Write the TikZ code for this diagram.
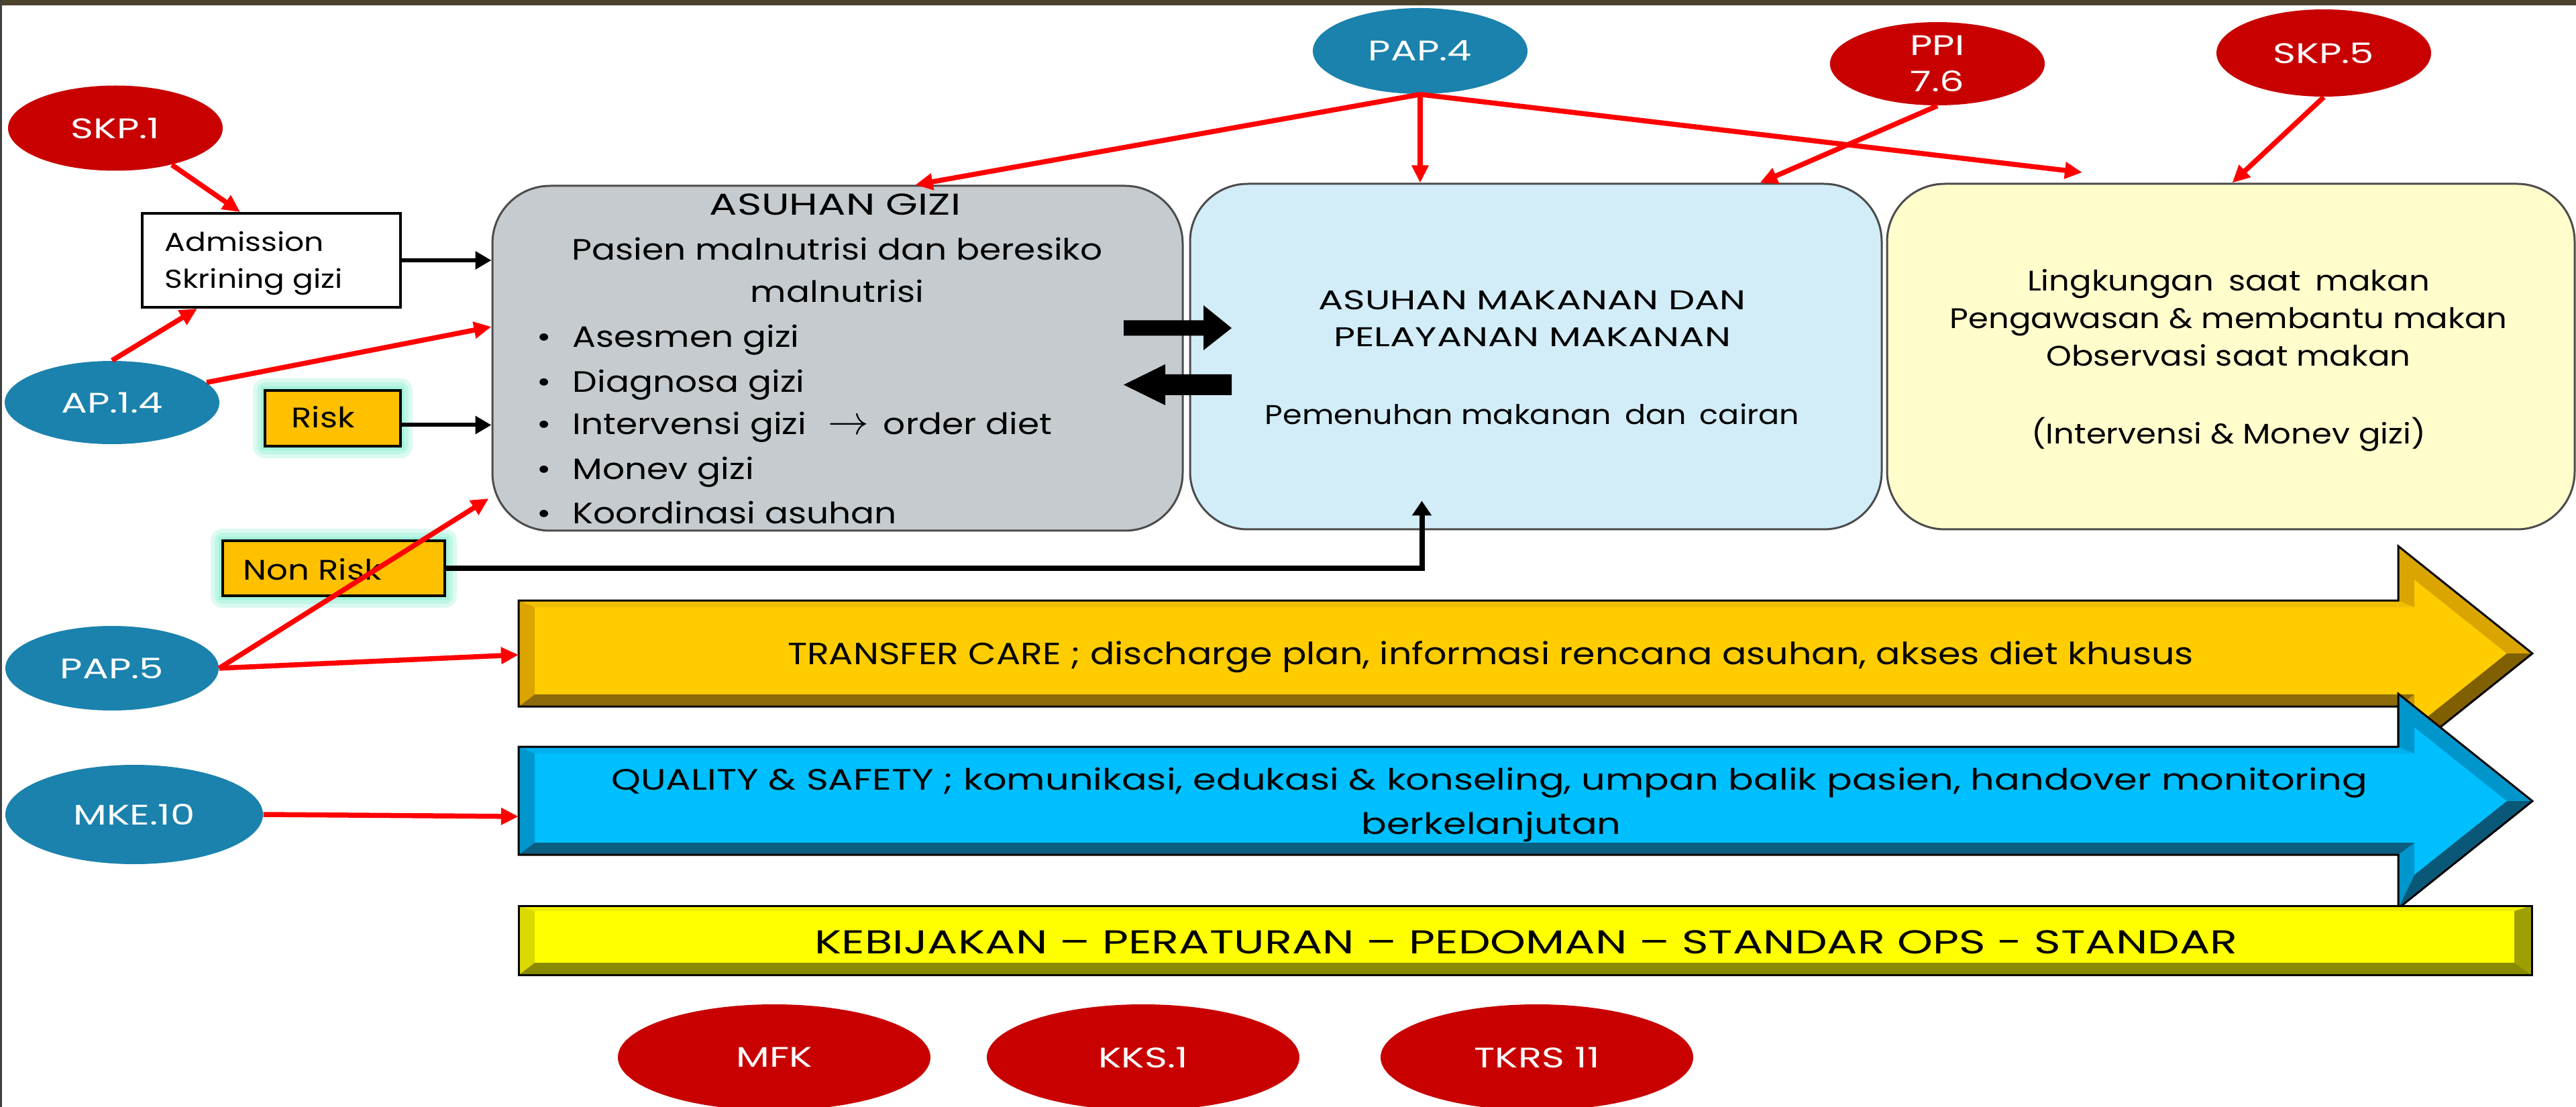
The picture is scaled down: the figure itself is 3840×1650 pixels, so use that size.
\documentclass[tikz,border=0pt]{standalone}
\usepackage{fontspec}
\setmainfont{Poppins}[FakeStretch=1.18]
\newfontfamily\widefont{Poppins}[FakeStretch=1.37]
\newfontfamily\midfont{Poppins}[FakeStretch=1.27]
\newfontfamily\narrowfont{Poppins}[FakeStretch=1.14]
\usetikzlibrary{shapes.geometric,arrows.meta,calc}

\definecolor{redE}{HTML}{C80000}
\definecolor{blueE}{HTML}{1A82AD}
\definecolor{grayBox}{HTML}{C5CBCF}
\definecolor{skyBox}{HTML}{D2EDF8}
\definecolor{creamBox}{HTML}{FFFDCC}
\definecolor{tagFill}{HTML}{FFC000}
\definecolor{glowC}{HTML}{A4F2DC}
\definecolor{lineRed}{HTML}{FF0000}
\definecolor{topBar}{HTML}{4B432B}
% bevelled band colours
\definecolor{tcFace}{HTML}{FFCC00}
\definecolor{tcTop}{HTML}{F2BF00}
\definecolor{tcLit}{HTML}{DAA500}
\definecolor{tcStep}{HTML}{C89600}
\definecolor{tcDark}{HTML}{7F5F00}
\definecolor{tcBot}{HTML}{8C6A0C}
\definecolor{qsFace}{HTML}{00BFFF}
\definecolor{qsTop}{HTML}{00B0EE}
\definecolor{qsLit}{HTML}{0096CC}
\definecolor{qsDark}{HTML}{0A5878}
\definecolor{qsBot}{HTML}{0C5E80}
\definecolor{kbFace}{HTML}{FFFF00}
\definecolor{kbTop}{HTML}{EEEE00}
\definecolor{kbLit}{HTML}{DADA00}
\definecolor{kbRight}{HTML}{9E9E00}
\definecolor{kbBot}{HTML}{8A8A00}

\tikzset{
  ovalnode/.style={ellipse, inner sep=0pt, text=white, font=\widefont\fontsize{12}{15.4}\selectfont, align=center},
  redoval/.style={ovalnode, fill=redE},
  blueoval/.style={ovalnode, fill=blueE},
  bigbox/.style={rectangle, rounded corners=8.6mm, draw=black!70, line width=0.3mm, inner sep=0pt},
  tagbox/.style={rectangle, draw=black, line width=0.4mm, fill=tagFill, inner sep=0pt,
    preaction={draw=glowC!40, line width=3.6mm, line join=round},
    preaction={draw=glowC!70, line width=2.4mm, line join=round},
    preaction={draw=glowC, line width=1.2mm}},
  redlink/.style={draw=lineRed, line width=0.75mm, -{Triangle[length=2.6mm,width=2.4mm]}},
  blacklink/.style={draw=black, line width=0.6mm, -{Triangle[length=2.4mm,width=2.6mm]}},
  txt/.style={inner sep=0pt, anchor=base},
  txtl/.style={inner sep=0pt, anchor=base west},
  bodyfont/.style={font=\fontsize{12.5}{15}\selectfont},
  outline/.style={draw=black, line width=0.3mm, line join=miter}
}

\begin{document}
\begin{tikzpicture}[x=0.1mm,y=-0.1mm]
\useasboundingbox (0,0) rectangle (3840,1650);
\fill[white] (0,0) rectangle (3840,1650);
% slide frame
\fill[topBar] (0,0) rectangle (3840,8);
\fill[black!75] (0,0) rectangle (3,1650);

% three main panels
\node[bigbox, fill=grayBox, minimum width=102.9mm, minimum height=51.4mm] (gizi) at (1248.5,534) {};
\node[bigbox, fill=skyBox, minimum width=103.1mm, minimum height=51.5mm] (makan) at (2289.5,531.5) {};
\node[bigbox, fill=creamBox, minimum width=102.5mm, minimum height=51.5mm] (ling) at (3325.5,531.5) {};

% panel texts
\node[txt, font=\widefont\fontsize{12.8}{15}\selectfont] (g1) at (1245,321) {ASUHAN GIZI};
\begin{scope}[bodyfont]
\node[txt] (g2) at (1248,388) {Pasien malnutrisi dan beresiko};
\node[txt] (g3) at (1248,451) {malnutrisi};
\foreach \y/\t [count=\i] in {518/Asesmen gizi, 585/Diagnosa gizi,
    648/{Intervensi gizi\hspace{3.2mm}{\fontsize{16}{16}\selectfont$\rightarrow$}\hspace{2.2mm}order diet}, 715/Monev gizi, 780/Koordinasi asuhan}{
  \node[txtl] (gb\i) at (800,\y) {\textbullet};
  \node[txtl] (gt\i) at (853,\y) {\t};
}
\end{scope}
\node[txt, font=\widefont\fontsize{11.5}{14}\selectfont] (m1) at (2284,462) {ASUHAN MAKANAN DAN};
\node[txt, font=\widefont\fontsize{11.5}{14}\selectfont] (m2) at (2284,517) {PELAYANAN MAKANAN};
\node[txt, font=\narrowfont\fontsize{11.5}{14}\selectfont] (m3) at (2284,633) {Pemenuhan makanan\hspace{2mm}dan\hspace{2mm}cairan};
\begin{scope}[font=\narrowfont\fontsize{12}{14}\selectfont]
\node[txt] (l1) at (3322,434) {Lingkungan\hspace{2.2mm}saat\hspace{2.2mm}makan};
\node[txt] (l2) at (3322,490) {Pengawasan \& membantu makan};
\node[txt] (l3) at (3322,546) {Observasi saat makan};
\node[txt] (l4) at (3322,661) {(Intervensi \& Monev gizi)};
\end{scope}

% exchange arrows between the first two panels
\fill[black] (1675,477.5) -- (1794,477.5) -- (1794,455) -- (1836,489) -- (1794,522)
  -- (1794,500.5) -- (1675,500.5) -- cycle;
\fill[black] (1836,558) -- (1737,558) -- (1737,543) -- (1675,573.5) -- (1737,604)
  -- (1737,589) -- (1836,589) -- cycle;

% admission and risk tags
\node[rectangle, draw=black, line width=0.4mm, fill=white, minimum width=38.5mm, minimum height=14mm] (adm) at (404.5,388) {};
\begin{scope}[font=\fontsize{11}{14}\selectfont]
\node[txtl] (adm1) at (245,375) {Admission};
\node[txtl] (adm2) at (245,430) {Skrining gizi};
\end{scope}
\node[tagbox, minimum width=20.2mm, minimum height=8.3mm] (risk) at (496,623.5) {};
\node[txtl, font=\fontsize{12}{14}\selectfont] (riskt) at (434,638) {Risk};
\node[tagbox, minimum width=33.1mm, minimum height=8.2mm] (nrisk) at (497.5,847) {};
\node[txtl, font=\fontsize{12}{14}\selectfont] (nriskt) at (362,864) {Non Risk};

% transfer care band
\fill[tcFace] (773,895) -- (3575,895) -- (3575,814) -- (3775,974) -- (3575,1134) -- (3575,1053) -- (773,1053) -- cycle;
\fill[tcTop] (773,895) -- (3575,895) -- (3599,905) -- (797,905) -- cycle;
\fill[tcLit] (3575,895) -- (3575,814) -- (3599,864) -- (3599,905) -- cycle;
\fill[tcLit] (3575,814) -- (3775,974) -- (3737,974) -- (3599,864) -- cycle;
\fill[tcDark] (3775,974) -- (3575,1134) -- (3599,1084) -- (3737,974) -- cycle;
\fill[tcStep] (3575,1134) -- (3575,1053) -- (3599,1035) -- (3599,1084) -- cycle;
\fill[tcBot] (3575,1053) -- (773,1053) -- (797,1035) -- (3599,1035) -- cycle;
\fill[tcLit] (773,1053) -- (773,895) -- (797,905) -- (797,1035) -- cycle;
\draw[outline] (773,895) -- (3575,895) -- (3575,814) -- (3775,974) -- (3575,1134) -- (3575,1053) -- (773,1053) -- cycle;
\coordinate (tcW) at (773,976);
\node[txt, font=\fontsize{13}{15}\selectfont] (tct) at (2222,990) {TRANSFER CARE ; discharge plan, informasi rencana asuhan, akses diet khusus};

% quality and safety band
\fill[qsFace] (773,1113) -- (3575,1113) -- (3575,1034) -- (3775,1194) -- (3575,1354) -- (3575,1274) -- (773,1274) -- cycle;
\fill[qsTop] (773,1113) -- (3575,1113) -- (3599,1123) -- (797,1123) -- cycle;
\fill[qsLit] (3575,1113) -- (3575,1034) -- (3599,1084) -- (3599,1123) -- cycle;
\fill[qsLit] (3575,1034) -- (3775,1194) -- (3737,1194) -- (3599,1084) -- cycle;
\fill[qsDark] (3775,1194) -- (3575,1354) -- (3599,1304) -- (3737,1194) -- cycle;
\fill[qsLit] (3575,1354) -- (3575,1274) -- (3599,1256) -- (3599,1304) -- cycle;
\fill[qsBot] (3575,1274) -- (773,1274) -- (797,1256) -- (3599,1256) -- cycle;
\fill[qsLit] (773,1274) -- (773,1113) -- (797,1123) -- (797,1256) -- cycle;
\draw[outline] (773,1113) -- (3575,1113) -- (3575,1034) -- (3775,1194) -- (3575,1354) -- (3575,1274) -- (773,1274) -- cycle;
\coordinate (qsW) at (773,1217);
\begin{scope}[font=\midfont\fontsize{12.5}{15}\selectfont]
\node[txt] (qs1) at (2220,1177) {QUALITY \& SAFETY ; komunikasi, edukasi \& konseling, umpan balik pasien, handover monitoring};
\node[txt] (qs2) at (2223,1243) {berkelanjutan};
\end{scope}

% policy bar
\fill[kbFace] (773,1350) rectangle (3774,1453);
\fill[kbTop] (773,1350) -- (3774,1350) -- (3748,1358) -- (797,1358) -- cycle;
\fill[kbRight] (3774,1350) -- (3774,1453) -- (3748,1435) -- (3748,1358) -- cycle;
\fill[kbBot] (3774,1453) -- (773,1453) -- (797,1435) -- (3748,1435) -- cycle;
\fill[kbLit] (773,1453) -- (773,1350) -- (797,1358) -- (797,1435) -- cycle;
\draw[outline] (773,1350) rectangle (3774,1453);
\node[txt, font=\widefont\fontsize{14}{16}\selectfont] (kbt) at (2275,1421) {KEBIJAKAN – PERATURAN – PEDOMAN – STANDAR OPS - STANDAR};

% standard ovals
\node[redoval, minimum width=32mm, minimum height=12.7mm] (skp1) at (172,191) {SKP.1};
\node[blueoval, minimum width=32mm, minimum height=12.4mm] (ap14) at (167,600) {AP.1.4};
\node[blueoval, minimum width=32mm, minimum height=12.8mm] (pap4) at (2117,76) {PAP.4};
\node[redoval, minimum width=32mm, minimum height=12.4mm] (ppi) at (2888,95) {PPI\\7.6};
\node[redoval, minimum width=32mm, minimum height=13mm] (skp5) at (3464,79) {SKP.5};
\node[blueoval, minimum width=31.8mm, minimum height=12.6mm] (pap5) at (167,996) {PAP.5};
\node[blueoval, minimum width=38.4mm, minimum height=14.8mm] (mke) at (200,1214) {MKE.10};
\begin{scope}[font=\widefont\fontsize{12.5}{15}\selectfont]
\node[redoval, minimum width=46.6mm, minimum height=15.8mm] (mfk) at (1154,1576) {MFK};
\node[redoval, minimum width=46.6mm, minimum height=15.8mm] (kks) at (1704,1576) {KKS.1};
\node[redoval, minimum width=46.6mm, minimum height=15.8mm] (tkrs) at (2291,1576) {TKRS 11};
\end{scope}

% black flow arrows
\draw[blacklink] (adm.east) -- (adm.east -| gizi.west);
\draw[blacklink] ([yshift=-1mm]risk.east) -- ([yshift=-1mm]risk.east -| gizi.west);
\coordinate (nrtip) at ([xshift=34.7mm,yshift=4.4mm]makan.south west);
\draw[draw=black, line width=0.8mm, -{Triangle[length=2.2mm,width=2.8mm]}] (nrisk.east) -| (nrtip);

% red standard links
\draw[redlink] (skp1.-33) -- ([xshift=14.8mm]adm.north west);
\draw[redlink] (ap14.north) -- ([xshift=8.4mm]adm.south west);
\draw[redlink] (ap14.12) -- ([yshift=4.7mm]gizi.west);
\draw[redlink] (pap4.south) -- ([xshift=63.2mm]gizi.north west);
\draw[redlink] (pap4.south) -- (pap4.south |- makan.north);
\coordinate (pap4end) at (3104,257);
\draw[redlink] (pap4.south) -- (pap4end);
\draw[redlink] (ppi.south) -- ([xshift=85.1mm]makan.north west);
\draw[redlink] (skp5.south) -- ([xshift=51.6mm]ling.north west);
\draw[redlink] (pap5.east) -- ([yshift=-20.9mm,xshift=-0.4mm]gizi.west);
\draw[redlink] (pap5.east) -- (tcW);
\draw[redlink] (mke.east) -- (qsW);
\end{tikzpicture}
\end{document}
